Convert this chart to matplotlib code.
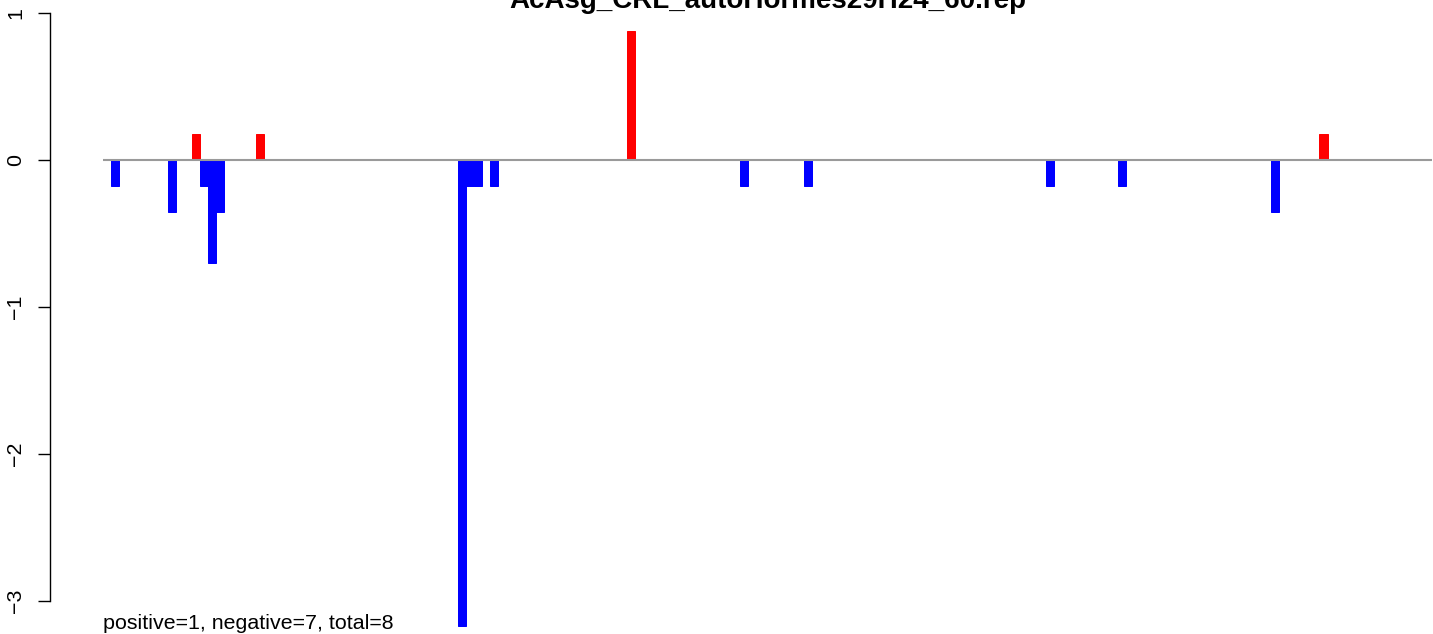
import matplotlib
matplotlib.use("Agg")
import matplotlib.pyplot as plt

plt.rcParams['font.family'] = ['Liberation Sans', 'DejaVu Sans']

title = "AcAsg_CRL_autoHormes29H24_60.rep"
n_slots = 165
bar_index = [1, 8, 11, 12, 13, 14, 19, 44, 45, 46, 48, 65, 79, 87, 117, 126, 145, 151]
bar_value = [-0.176, -0.352, 0.176, -0.176, -0.704, -0.352, 0.176, -3.17, -0.176, -0.176,
             -0.176, 0.88, -0.176, -0.176, -0.176, -0.176, -0.352, 0.176]
y_ticks = [-3, -2, -1, 0, 1]
note = "positive=1, negative=7, total=8"

W, H = 1433, 634
fig = plt.figure(figsize=(W / 100, H / 100), dpi=100)

# axes geometry in pixels (R-like plot region, partly outside the image)
xl, xr = -0.04 * n_slots, 1.04 * n_slots
px_left, px_right = 50, 50 + (xr - xl) * 8.055
ylo, yhi = -3.35, 1.05
py_zero, ppu = 160, 147
py_top = py_zero - yhi * ppu
py_bot = py_zero - ylo * ppu
ax = fig.add_axes([px_left / W, 1 - py_bot / H, (px_right - px_left) / W, (py_bot - py_top) / H])
ax.set_xlim(xl, xr)
ax.set_ylim(ylo, yhi)

colors = ['red' if v > 0 else 'blue' for v in bar_value]
ax.bar(bar_index, bar_value, width=1, align='edge', color=colors, edgecolor=colors,
       linewidth=0.72, zorder=2)
ax.plot([0, n_slots], [0, 0], color='#9a9a9a', lw=1.5, zorder=3, solid_capstyle='butt')

for s in ['top', 'right', 'bottom']:
    ax.spines[s].set_visible(False)
ax.spines['left'].set_bounds(min(y_ticks), max(y_ticks))
ax.spines['left'].set_linewidth(1.0)
ax.set_xticks([])
ax.set_yticks(y_ticks)
ax.set_yticklabels([str(t).replace('-', '\u2212') for t in y_ticks], rotation=90, va='center')
ax.tick_params(axis='y', length=8.5, width=1.0, pad=9.5, labelsize=15.4)

ax.text(0, -3.15, note, ha='left', va='center', fontsize=15.4)

fig.text((px_left + px_right) / 2 / W, 1 - 8 / H, title, ha='center', va='baseline',
         fontsize=20, fontweight='bold')

fig.savefig('out.png', dpi=100)
